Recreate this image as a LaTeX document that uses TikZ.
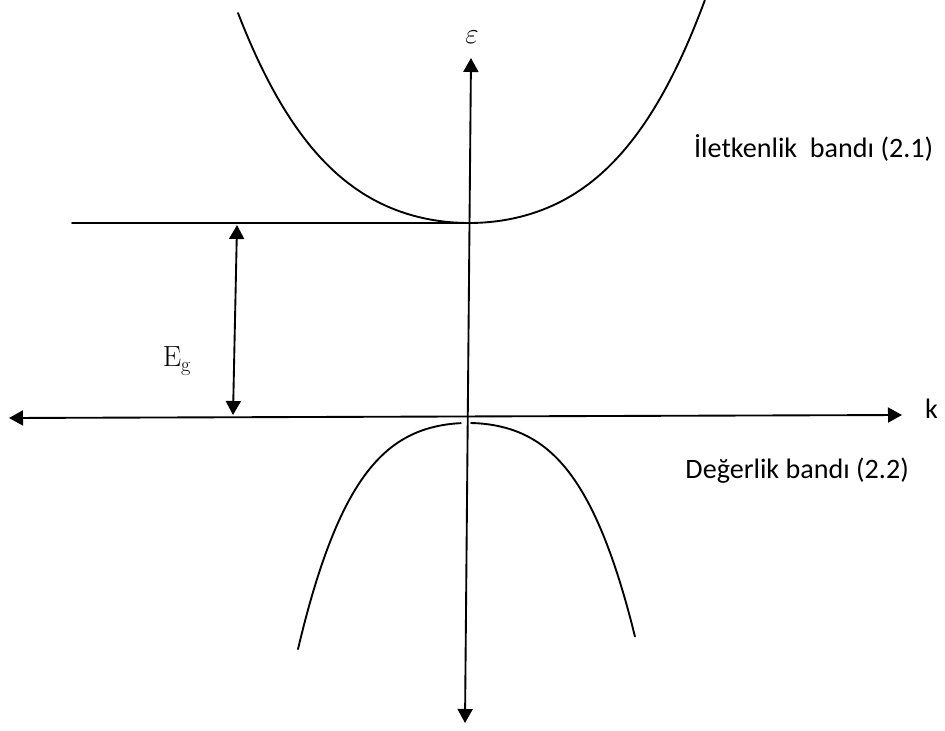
\documentclass[tikz,border=0pt]{standalone}
\usepackage[no-math]{fontspec}
\setmainfont{Carlito}
\usetikzlibrary{arrows.meta}
\begin{document}
\begin{tikzpicture}[x=0.03cm, y=-0.03cm, line join=round, line cap=round, >={Triangle[width=4.5mm,length=4.2mm]}]
	\tikzset{every node/.style={font=\fontsize{24}{29}\selectfont}, axis/.style={line width=1.6pt}, band/.style={line width=1.6pt, smooth, samples=120}}
	\useasboundingbox (0,0) rectangle (945,731);
	\coordinate (kL) at (9,418); \coordinate (kR) at (902,415);
	\coordinate (eB) at (465,723); \coordinate (eT) at (471,58);
	\coordinate (lvl) at (72,223); \coordinate (cmin) at (469,223);
	\coordinate (gT) at (237,225); \coordinate (gB) at (233,415);
	\draw[<->, axis] (kL) -- (kR);
	\draw[<->, axis] (eB) -- (eT);
	\draw[axis] (lvl) -- (cmin);
	\draw[<->, axis] (gT) -- (gB);
	% iletkenlik ve degerlik bantlari
	\draw[band, domain=-2.31:2.36] plot ({469+100*\x}, {223-22.8*(\x)^2-3.103*(\x)^4});
	\draw[band, domain=-1.70:-0.07] plot ({468+100*\x}, {423+32*(\x)^2+16*(\x)^4});
	\draw[band, domain=0.03:1.67] plot ({468+100*\x}, {423+32*(\x)^2+16*(\x)^4});
	\node (eps) at (472,37) {\fontsize{25}{30}\selectfont$\varepsilon$};
	\node[anchor=base west] (k) at (921,418) {k};
	\node[anchor=base west] (cb) at (690,157) {İletkenlik\ \ bandı (2.1)};
	\node[anchor=base east] (vb) at (913,478) {Değerlik bandı (2.2)};
	\node (eg) at (177,361) {\fontsize{26}{31}\selectfont$\mathrm{E}_\mathrm{g}$};
\end{tikzpicture}
\end{document}
